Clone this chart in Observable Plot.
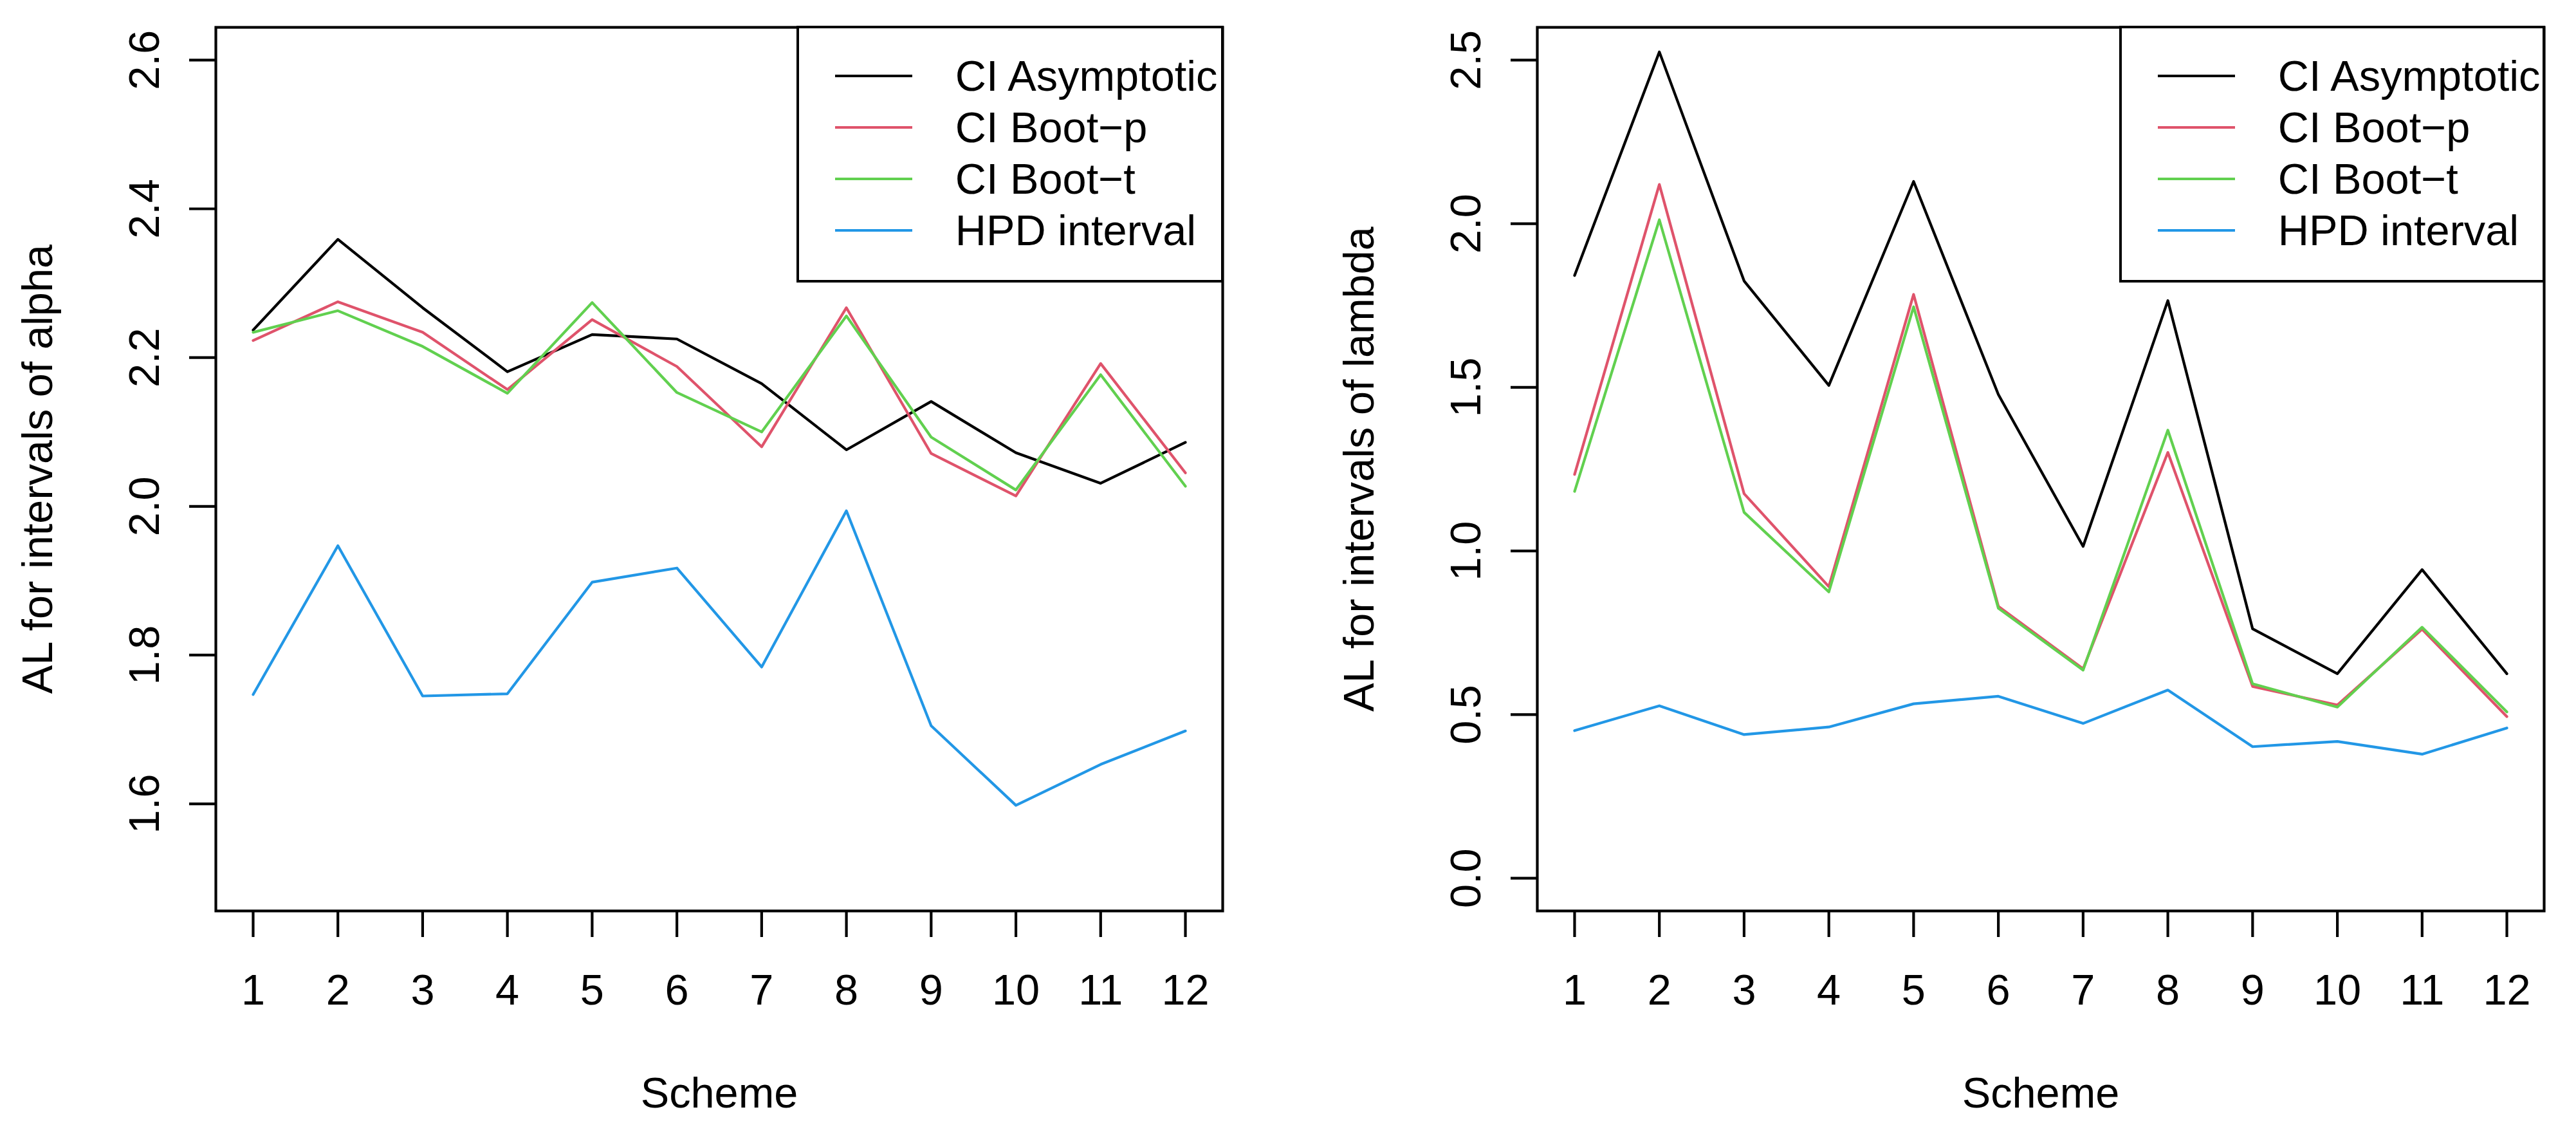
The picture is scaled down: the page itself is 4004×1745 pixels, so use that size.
<!DOCTYPE html>
<html>
<head>
<meta charset="utf-8">
<script src="https://cdn.jsdelivr.net/npm/d3@7"></script>
<script src="https://cdn.jsdelivr.net/npm/@observablehq/plot@0.6"></script>
<style>
  html, body { margin: 0; padding: 0; background: #fff; }
  #wrap { position: relative; width: 4004px; height: 1745px; display: flex; }
  .panel { position: relative; width: 2002px; height: 1745px; }
  .legend { position: absolute; box-sizing: border-box; border: 4.2px solid #000; background: #fff;
            font-family: "Liberation Sans", Arial, sans-serif; font-size: 66.7px; color: #000; }
  .row { position: absolute; left: 0; right: 0; height: 80px; line-height: 80px; white-space: nowrap; }
  .row svg { position: absolute; top: 0; }
  .row span { position: absolute; top: 0; }
</style>
</head>
<body>
<div id="wrap"></div>
<script>
// ---------- data ----------
const schemes = [1, 2, 3, 4, 5, 6, 7, 8, 9, 10, 11, 12];
const seriesNames = ["CI Asymptotic", "CI Boot\u2212p", "CI Boot\u2212t", "HPD interval"];
const seriesColors = ["#000000", "#DF536B", "#61D04F", "#2297E6"];

const alphaAsymptotic = [2.237, 2.359, 2.267, 2.181, 2.231, 2.225, 2.165, 2.076, 2.141, 2.072, 2.031, 2.086];
const alphaBootP      = [2.223, 2.275, 2.234, 2.157, 2.251, 2.188, 2.080, 2.267, 2.071, 2.014, 2.192, 2.045];
const alphaBootT      = [2.234, 2.263, 2.215, 2.152, 2.274, 2.153, 2.100, 2.256, 2.093, 2.022, 2.177, 2.027];
const alphaHPD        = [1.747, 1.947, 1.745, 1.748, 1.898, 1.917, 1.784, 1.994, 1.705, 1.598, 1.653, 1.698];

const lambdaAsymptotic = [1.842, 2.525, 1.825, 1.506, 2.129, 1.478, 1.014, 1.765, 0.762, 0.625, 0.943, 0.625];
const lambdaBootP      = [1.234, 2.120, 1.175, 0.891, 1.784, 0.831, 0.640, 1.301, 0.586, 0.529, 0.761, 0.494];
const lambdaBootT      = [1.182, 2.012, 1.118, 0.875, 1.746, 0.825, 0.636, 1.369, 0.594, 0.523, 0.767, 0.508];
const lambdaHPD        = [0.451, 0.527, 0.439, 0.462, 0.533, 0.556, 0.473, 0.575, 0.402, 0.418, 0.379, 0.459];

const alphaTicks  = [1.6, 1.8, 2.0, 2.2, 2.4, 2.6];
const lambdaTicks = [0.0, 0.5, 1.0, 1.5, 2.0, 2.5];
const alphaYLim  = [1.5, 2.6];
const lambdaYLim = [0, 2.5];
const xLabel = "Scheme";
const alphaYLabel  = "AL for intervals of alpha";
const lambdaYLabel = "AL for intervals of lambda";

// ---------- helpers ----------
const FONT = "Liberation Sans, Arial, sans-serif";
const FS = 66.7;
const LW = 4.2;

function tidy(seriesArrays) {
  const rows = [];
  seriesArrays.forEach((arr, si) => {
    arr.forEach((v, i) => rows.push({scheme: schemes[i], value: v, series: seriesNames[si]}));
  });
  return rows;
}
function expand([a, b]) { const d = (b - a) * 0.04; return [a - d, b + d]; }

function panel({data, ticks, ylim, ylabel, marginLeft, marginRight, legendLeft, legendRight}) {
  const div = document.createElement("div");
  div.className = "panel";
  const chart = Plot.plot({
    width: 2002,
    height: 1745,
    marginLeft, marginRight, marginTop: 42, marginBottom: 330,
    style: {fontFamily: FONT, fontSize: FS + "px", background: "white", color: "black"},
    x: {domain: expand([schemes[0], schemes[schemes.length - 1]])},
    y: {domain: expand(ylim)},
    color: {domain: seriesNames, range: seriesColors},
    marks: [
      Plot.line(data, {x: "scheme", y: "value", z: "series", stroke: "series", strokeWidth: LW,
                       strokeLinejoin: "round", strokeLinecap: "round"}),
      Plot.frame({stroke: "black", strokeWidth: LW}),
      Plot.axisX({ticks: schemes, tickFormat: d => String(d), tickSize: 41, tickPadding: 57,
                  strokeWidth: LW, fontSize: FS, fontFamily: FONT, label: null}),
      Plot.axisY({ticks, tickFormat: d3.format(".1f"), tickSize: 41, tickPadding: 48, tickRotate: -90,
                  strokeWidth: LW, fontSize: FS, fontFamily: FONT, label: null}),
      Plot.text([xLabel], {text: d => d, frameAnchor: "bottom", dy: 284, lineAnchor: "middle",
                           textAnchor: "middle", fontSize: FS, fontFamily: FONT, fill: "black"}),
      Plot.text([ylabel], {text: d => d, frameAnchor: "left", dx: -276, rotate: -90, lineAnchor: "middle",
                           textAnchor: "middle", fontSize: FS, fontFamily: FONT, fill: "black"})
    ]
  });
  div.appendChild(chart);

  // legend (top-right, like R's legend("topright"))
  const lg = document.createElement("div");
  lg.className = "legend";
  const top = 42, bottom = 437;
  lg.style.left = (legendLeft - LW / 2) + "px";
  lg.style.top = (top - LW / 2) + "px";
  lg.style.width = (legendRight - legendLeft + LW) + "px";
  lg.style.height = (bottom - top + LW) + "px";
  seriesNames.forEach((name, i) => {
    const row = document.createElement("div");
    row.className = "row";
    const center = 118 + i * 80 - (top + LW / 2);
    row.style.top = (center - 40) + "px";
    const svgNS = "http://www.w3.org/2000/svg";
    const s = document.createElementNS(svgNS, "svg");
    s.setAttribute("width", 122); s.setAttribute("height", 80);
    s.style.left = (58 - LW / 2 - 1) + "px";
    const ln = document.createElementNS(svgNS, "line");
    ln.setAttribute("x1", 1); ln.setAttribute("x2", 121);
    ln.setAttribute("y1", 40); ln.setAttribute("y2", 40);
    ln.setAttribute("stroke", seriesColors[i]); ln.setAttribute("stroke-width", LW);
    s.appendChild(ln);
    const sp = document.createElement("span");
    sp.textContent = name;
    sp.style.left = (245 - LW / 2) + "px";
    row.appendChild(s); row.appendChild(sp);
    lg.appendChild(row);
  });
  div.appendChild(lg);
  return div;
}

const wrap = document.getElementById("wrap");
wrap.appendChild(panel({
  data: tidy([alphaAsymptotic, alphaBootP, alphaBootT, alphaHPD]),
  ticks: alphaTicks, ylim: alphaYLim, ylabel: alphaYLabel,
  marginLeft: 335, marginRight: 102, legendLeft: 1240, legendRight: 1900
}));
wrap.appendChild(panel({
  data: tidy([lambdaAsymptotic, lambdaBootP, lambdaBootT, lambdaHPD]),
  ticks: lambdaTicks, ylim: lambdaYLim, ylabel: lambdaYLabel,
  marginLeft: 387, marginRight: 50, legendLeft: 1294, legendRight: 1952
}));
</script>
</body>
</html>
